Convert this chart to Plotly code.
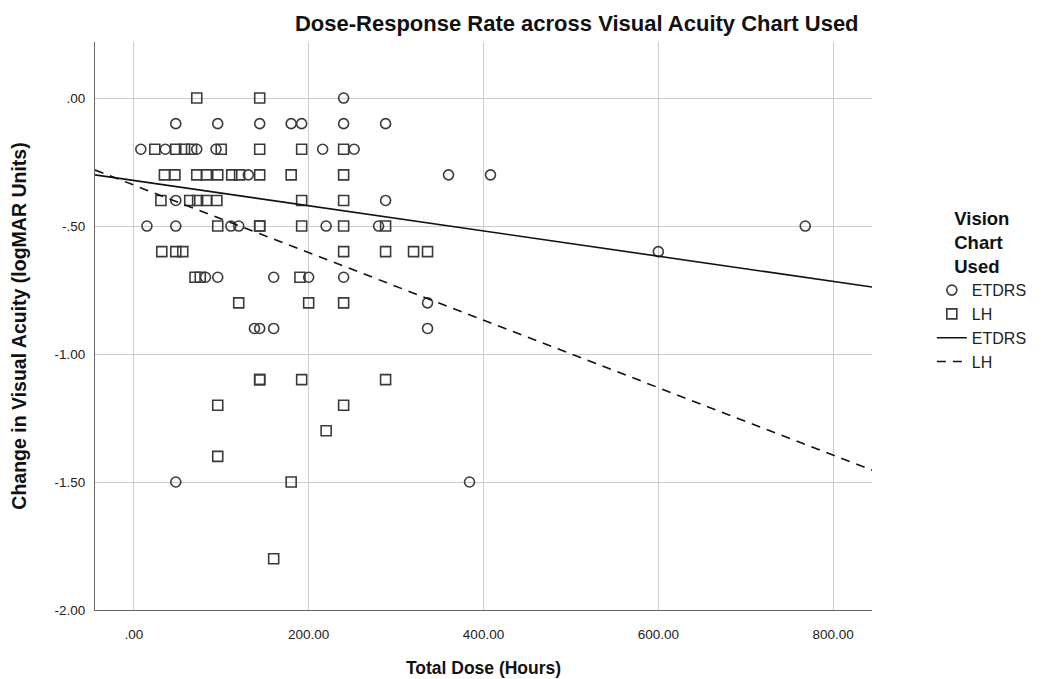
import plotly.graph_objects as go

# ETDRS (circles)
etdrs_dose = [240,
              48, 96, 144, 180, 192, 240, 288,
              8, 36, 72, 94, 216, 252,
              131, 360, 408,
              48, 288,
              15, 48, 111, 120, 220, 280, 768,
              600,
              82, 96, 160, 200, 240,
              336,
              138, 144, 160, 336,
              48, 384]
etdrs_change = [0.0,
                -0.1, -0.1, -0.1, -0.1, -0.1, -0.1, -0.1,
                -0.2, -0.2, -0.2, -0.2, -0.2, -0.2,
                -0.3, -0.3, -0.3,
                -0.4, -0.4,
                -0.5, -0.5, -0.5, -0.5, -0.5, -0.5, -0.5,
                -0.6,
                -0.7, -0.7, -0.7, -0.7, -0.7,
                -0.8,
                -0.9, -0.9, -0.9, -0.9,
                -1.5, -1.5]

# LH (squares)
lh_dose = [72, 144,
           24, 48, 58, 66, 100, 144, 192, 240,
           35, 47, 72, 83, 96, 112, 121, 144, 180, 240,
           31, 64, 73, 83, 95, 192, 240,
           96, 144, 144, 192, 240, 288,
           32, 48, 56, 240, 288, 320, 336,
           70, 76, 190,
           120, 200, 240,
           144, 144, 192, 288,
           96, 240,
           220,
           96,
           180,
           160]
lh_change = [0.0, 0.0,
             -0.2, -0.2, -0.2, -0.2, -0.2, -0.2, -0.2, -0.2,
             -0.3, -0.3, -0.3, -0.3, -0.3, -0.3, -0.3, -0.3, -0.3, -0.3,
             -0.4, -0.4, -0.4, -0.4, -0.4, -0.4, -0.4,
             -0.5, -0.5, -0.5, -0.5, -0.5, -0.5,
             -0.6, -0.6, -0.6, -0.6, -0.6, -0.6, -0.6,
             -0.7, -0.7, -0.7,
             -0.8, -0.8, -0.8,
             -1.1, -1.1, -1.1, -1.1,
             -1.2, -1.2,
             -1.3,
             -1.4,
             -1.5,
             -1.8]

# Fit lines (intercept, slope)
fit_names = ["ETDRS", "LH"]
fit_intercepts = [-0.322, -0.340]
fit_slopes = [-0.000493, -0.001319]

x_range = [-44.4, 844.4]
y_range = [-2.0, 0.219]
x_ticks = [0, 200, 400, 600, 800]
x_ticklabels = [".00", "200.00", "400.00", "600.00", "800.00"]
y_ticks = [0, -0.5, -1.0, -1.5, -2.0]
y_ticklabels = [".00", "-.50", "-1.00", "-1.50", "-2.00"]

FONT = "Arial, 'Liberation Sans', sans-serif"
mk_col = "#3a3a3a"

fig = go.Figure()
fig.add_trace(go.Scatter(x=etdrs_dose, y=etdrs_change, mode="markers", name="ETDRS",
                         marker=dict(symbol="circle-open", size=10, color=mk_col,
                                     line=dict(width=1.6, color=mk_col))))
fig.add_trace(go.Scatter(x=lh_dose, y=lh_change, mode="markers", name="LH",
                         marker=dict(symbol="square-open", size=10, color=mk_col,
                                     line=dict(width=1.6, color=mk_col))))
dashes = ["solid", "9px,7px"]
for name, b0, b1, d in zip(fit_names, fit_intercepts, fit_slopes, dashes):
    fig.add_trace(go.Scatter(x=x_range, y=[b0 + b1 * x for x in x_range], mode="lines",
                             name=name, line=dict(color="#111111", width=1.6, dash=d)))

fig.update_layout(
    width=1044, height=679,
    margin=dict(l=95, r=169, t=42, b=69),
    paper_bgcolor="white", plot_bgcolor="white",
    font=dict(family=FONT, size=13, color="#222"),
    title=dict(text="<b>Dose-Response Rate across Visual Acuity Chart Used</b>",
               x=0.62, xref="paper", xanchor="center", y=0.966, yanchor="middle",
               font=dict(size=22, color="#111")),
    showlegend=True,
    legend=dict(x=1.077, y=0.72, xanchor="left", yanchor="top",
                title=dict(text="<b>Vision<br>Chart<br>Used</b>", side="top center",
                           font=dict(size=18.5, color="#111")),
                font=dict(size=16, color="#222"), tracegroupgap=0, itemwidth=30,
                bgcolor="rgba(0,0,0,0)"),
)
fig.update_xaxes(range=x_range, tickvals=x_ticks, ticktext=x_ticklabels,
                 automargin=False,
                 showgrid=True, gridcolor="#cccccc", gridwidth=1, zeroline=False,
                 showline=True, linecolor="#666", linewidth=1,
                 ticks="outside", ticklen=12, tickcolor="rgba(0,0,0,0)",
                 tickfont=dict(size=13.5, color="#222"),
                 title=dict(text="<b>Total Dose (Hours)</b>", font=dict(size=17.5, color="#111"),
                            standoff=20))
fig.update_yaxes(range=y_range, tickvals=y_ticks, ticktext=y_ticklabels,
                 automargin=False,
                 showgrid=True, gridcolor="#cccccc", gridwidth=1, zeroline=False,
                 showline=True, linecolor="#666", linewidth=1,
                 ticks="outside", ticklen=6, tickcolor="rgba(0,0,0,0)",
                 tickfont=dict(size=13.5, color="#222"),
                 title=dict(text="<b>Change in Visual Acuity (logMAR Units)</b>",
                            font=dict(size=19.5, color="#111"), standoff=22))

fig.write_html("out.html")
